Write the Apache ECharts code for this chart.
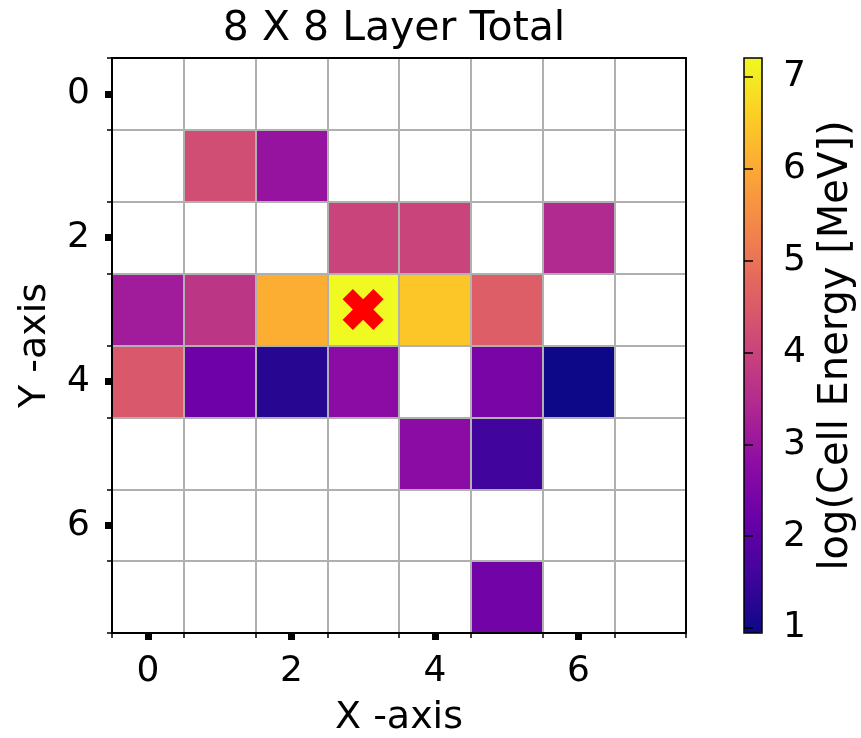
<!DOCTYPE html>
<html>
<head>
<meta charset="utf-8">
<script src="https://cdn.jsdelivr.net/npm/echarts@6/dist/echarts.min.js"></script>
<style>
html,body{margin:0;padding:0;background:#fff;}
#chart{width:861px;height:738px;}
</style>
</head>
<body>
<div id="chart"></div>
<script>
// ---- data ----
const xCategories = ['0','1','2','3','4','5','6','7'];
const yCategories = ['0','1','2','3','4','5','6','7'];
const cellX = [1, 2, 3, 4, 6, 0, 1, 2, 3, 4, 5, 0, 1, 2, 3, 5, 6, 4, 5, 5];
const cellY = [1, 1, 2, 2, 2, 3, 3, 3, 3, 3, 3, 4, 4, 4, 4, 4, 4, 5, 5, 7];
const cellValue = [4.20, 2.95, 4.01, 4.01, 3.45, 3.14, 3.70, 6.08, 7.20, 6.46, 4.58, 4.45, 2.26, 1.26, 2.76, 2.45, 0.95, 2.76, 1.57, 2.32];
const markerX = [3];
const markerY = [3];
const colorbarTicks = [1, 2, 3, 4, 5, 6, 7];
const colorMin = 0.946;
const colorMax = 7.207;

const plasma = ['#0d0887','#41049d','#6a00a8','#8f0da4','#b12a90','#cc4778','#e16462','#f2844b','#fca636','#fcce25','#f0f921'];

const heatData = cellX.map((x, i) => [x, cellY[i], cellValue[i]]);
const markerData = markerX.map((x, i) => [x, markerY[i]]);

const FONT = 'DejaVu Sans';
const xPath = 'path://M2.5,0 L5,2.5 L7.5,0 L10,2.5 L7.5,5 L10,7.5 L7.5,10 L5,7.5 L2.5,10 L0,7.5 L2.5,5 L0,2.5 Z';

const chart = echarts.init(document.getElementById('chart'), null, {renderer: 'canvas'});

const baseCat = (extra) => Object.assign({
  type: 'category',
  gridIndex: 0,
  boundaryGap: true,
  axisLine: {show: false},
  axisTick: {show: false},
  axisLabel: {show: false},
  splitLine: {show: false}
}, extra);

const option = {
  backgroundColor: '#fff',
  animation: false,
  textStyle: {fontFamily: FONT},
  title: {
    text: '8 X 8 Layer Total',
    left: 389,
    textAlign: 'center',
    top: 4,
    textStyle: {fontFamily: FONT, fontSize: 41, fontWeight: 'normal', color: '#000'}
  },
  grid: [
    {left: 112, top: 58, width: 574, height: 575, outerBoundsMode: 'none', containLabel: false, show: true, borderColor: '#000', borderWidth: 2, backgroundColor: 'transparent', z: 10},
    {left: 744, top: 58, width: 18, height: 575, outerBoundsMode: 'none', containLabel: false, show: true, borderColor: '#000', borderWidth: 1.5, backgroundColor: 'transparent', z: 10}
  ],
  visualMap: {
    type: 'continuous',
    seriesIndex: 0,
    dimension: 2,
    min: colorMin,
    max: colorMax,
    calculable: false,
    show: true,
    orient: 'vertical',
    left: 744,
    top: 58,
    itemWidth: 18,
    itemHeight: 575,
    padding: 0,
    text: null,
    showLabel: false,
    inRange: {color: plasma}
  },
  xAxis: [
    baseCat({
      data: xCategories,
      position: 'bottom',
      z: 5,
      axisTick: {show: true, interval: 0, length: 5, lineStyle: {color: '#000', width: 1.5}},
      splitLine: {show: true, interval: 0, lineStyle: {color: '#b0b0b0', width: 2}}
    }),
    baseCat({
      data: xCategories,
      position: 'bottom',
      z: 5,
      axisTick: {show: true, alignWithLabel: true, interval: 1, length: 7, lineStyle: {color: '#000', width: 7}},
      axisLabel: {show: true, interval: 1, margin: 21, fontSize: 36, color: '#000', fontFamily: FONT},
      name: 'X -axis',
      nameLocation: 'middle',
      nameGap: 66,
      nameTextStyle: {fontSize: 38, color: '#000', fontFamily: FONT}
    }),
    {type: 'value', gridIndex: 1, show: false}
  ],
  yAxis: [
    baseCat({
      data: yCategories,
      position: 'left',
      inverse: true,
      z: 5,
      axisTick: {show: true, interval: 0, length: 5, lineStyle: {color: '#000', width: 1.5}},
      splitLine: {show: true, interval: 0, lineStyle: {color: '#b0b0b0', width: 2}}
    }),
    baseCat({
      data: yCategories,
      position: 'left',
      inverse: true,
      z: 5,
      axisTick: {show: true, alignWithLabel: true, interval: 1, length: 7, lineStyle: {color: '#000', width: 7}},
      axisLabel: {show: true, interval: 1, margin: 22, fontSize: 36, color: '#000', fontFamily: FONT},
      name: 'Y -axis',
      nameLocation: 'middle',
      nameGap: 58,
      nameRotate: 90,
      nameTextStyle: {fontSize: 38, color: '#000', fontFamily: FONT}
    }),
    {
      type: 'value',
      gridIndex: 1,
      position: 'right',
      min: colorMin,
      max: colorMax,
      z: 12,
      axisLine: {show: false},
      splitLine: {show: false},
      axisTick: {show: true, customValues: colorbarTicks, length: 9, lineStyle: {color: '#000', width: 1.5}},
      axisLabel: {show: true, customValues: colorbarTicks, margin: 21, fontSize: 36, color: '#000', fontFamily: FONT},
      name: 'log(Cell Energy [MeV])',
      nameLocation: 'middle',
      nameGap: 55,
      nameRotate: 90,
      nameTextStyle: {fontSize: 40, color: '#000', fontFamily: FONT}
    }
  ],
  series: [
    {
      type: 'heatmap',
      xAxisIndex: 0,
      yAxisIndex: 0,
      data: heatData,
      itemStyle: {borderWidth: 0}
    },
    {
      type: 'scatter',
      xAxisIndex: 0,
      yAxisIndex: 0,
      data: markerData,
      symbol: xPath,
      symbolSize: 41,
      itemStyle: {color: '#ff0000', opacity: 1},
      z: 6
    }
  ]
};

chart.setOption(option);
</script>
</body>
</html>
